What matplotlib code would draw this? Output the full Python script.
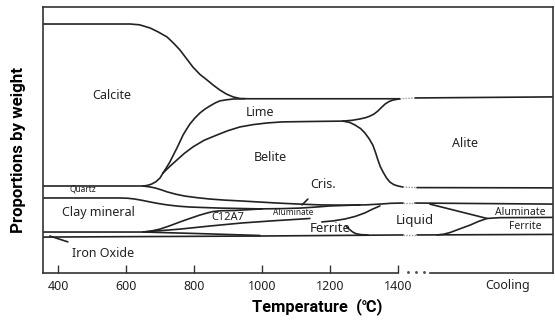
import matplotlib
matplotlib.use("Agg")
import matplotlib.pyplot as plt

plt.rcParams['font.family'] = ['Noto Sans', 'DejaVu Sans', 'Noto Sans CJK KR']

# ---- data: temperature (°C) and cumulative proportion (%) ----
calcite_T = [356, 612, 640, 671, 695, 721, 740, 759, 778, 797, 818, 838, 857, 876, 895, 915, 935, 960, 1406]
calcite_Y = [93.6, 93.6, 93.3, 92.1, 90.6, 88.7, 86.4, 83.8, 80.6, 77.4, 74.6, 72.6, 70.6, 68.8, 67.3, 66.2, 65.6, 65.5, 65.5]
calcite_cool_T = [1450, 1856]
calcite_cool_Y = [65.8, 66.2]

trunk_T = [650, 662, 675, 688, 700, 709]
trunk_Y = [32.7, 32.9, 33.4, 34.3, 35.7, 37.6]

lime_T = [709, 720, 729, 740, 750, 760, 768, 778, 788, 803, 818, 832, 847, 862, 876, 895, 915, 950]
lime_Y = [37.6, 39.8, 41.7, 44.5, 47.0, 49.7, 51.9, 54.0, 56.0, 58.3, 60.2, 61.6, 62.8, 63.9, 64.7, 65.1, 65.4, 65.5]

belite_top_T = [709, 730, 750, 772, 797, 830, 868, 900, 935, 975, 1015, 1060, 1112, 1170, 1238]
belite_top_Y = [37.6, 40.2, 42.5, 45.0, 47.4, 49.9, 51.9, 53.5, 54.9, 55.8, 56.4, 56.8, 56.9, 57.0, 57.1]

lime_bottom_T = [1238, 1265, 1288, 1305, 1318, 1330, 1341, 1352, 1362, 1373, 1385, 1406]
lime_bottom_Y = [57.1, 57.4, 57.9, 58.4, 59.0, 59.8, 60.9, 62.3, 63.5, 64.4, 65.0, 65.5]

belite_right_T = [1238, 1258, 1274, 1290, 1303, 1315, 1326, 1334, 1341, 1348, 1356, 1366, 1376, 1388, 1400, 1415]
belite_right_Y = [57.1, 56.6, 55.6, 54.3, 52.6, 50.5, 48.1, 45.3, 42.5, 40.0, 38.0, 35.8, 34.2, 33.2, 32.7, 32.3]
alite_bottom_T = [1456, 1856]
alite_bottom_Y = [32.1, 32.0]

quartz_top_T = [356, 650]
quartz_top_Y = [32.7, 32.7]

quartz_desc_T = [650, 668, 685, 703, 721, 747, 774, 810, 847, 890, 935, 990, 1044, 1110, 1171, 1240, 1303, 1347, 1380, 1415]
quartz_desc_Y = [32.7, 32.4, 32.0, 31.3, 30.5, 29.6, 28.9, 28.3, 27.8, 27.4, 27.1, 26.7, 26.3, 25.9, 25.6, 25.5, 25.6, 25.9, 26.2, 26.3]
liquid_top_cool_T = [1450, 1856]
liquid_top_cool_Y = [26.3, 25.9]

clay_top_T = [356, 582, 605, 626, 648, 671, 696, 721, 755, 788, 830, 876, 994, 1060, 1112, 1160, 1200, 1288]
clay_top_Y = [28.2, 28.2, 28.1, 27.8, 27.3, 26.7, 26.1, 25.6, 25.1, 24.8, 24.6, 24.4, 24.1, 24.2, 24.4, 24.8, 25.2, 25.6]

c12a7_T = [650, 675, 700, 730, 759, 790, 818, 840, 856, 880, 921, 1000]
c12a7_Y = [15.4, 15.8, 16.5, 17.8, 19.2, 20.6, 21.8, 22.6, 23.1, 23.4, 23.5, 24.1]

clay_bottom_T = [356, 650, 818, 994]
clay_bottom_Y = [15.4, 15.4, 14.8, 14.1]

bottom_T = [356, 994, 1415]
bottom_Y = [13.5, 13.9, 14.3]
bottom_cool_T = [1456, 1856]
bottom_cool_Y = [14.3, 14.5]

ferrite_top_T = [650, 700, 759, 850, 941, 1030, 1118, 1141]
ferrite_top_Y = [15.4, 15.9, 16.5, 17.7, 18.8, 19.6, 20.3, 20.5]

alum_rise_T = [1176, 1210, 1244, 1275, 1303, 1325, 1347]
alum_rise_Y = [19.2, 19.6, 20.3, 21.3, 22.6, 24.0, 25.2]

ferrite_bot_T = [1247, 1253, 1259, 1267, 1276, 1292, 1312]
ferrite_bot_Y = [17.7, 16.8, 16.2, 15.4, 14.8, 14.4, 14.3]

ferrite_cool_T = [1515, 1535, 1553, 1580, 1612, 1637, 1662, 1700, 1856]
ferrite_cool_Y = [14.3, 14.6, 15.2, 16.5, 18.0, 19.4, 20.5, 20.8, 20.9]

alum_cool_T = [1494, 1662]
alum_cool_Y = [25.9, 20.5]

cris_tick_T = [1118, 1135]
cris_tick_Y = [25.6, 27.8]

iron_leader_T = [376, 429]
iron_leader_Y = [13.9, 11.7]

# dotted breaks (heating -> cooling)
breaks = [([1406, 1450], [65.5, 65.8]),
          ([1415, 1456], [32.3, 32.1]),
          ([1415, 1450], [26.3, 26.3]),
          ([1415, 1456], [14.3, 14.3])]

tick_vals = [400, 600, 800, 1000, 1200, 1400]
tick_labels = ['400', '600', '800', '1000', '1200', '1400']

labels = [("Calcite", 559, 66.9, 9), ("Lime", 994, 60.2, 9), ("Belite", 1024, 43.6, 9),
          ("Alite", 1597, 48.5, 9), ("Cris.", 1179, 33.1, 9), ("Quartz", 474, 31.6, 6),
          ("Clay mineral", 518, 22.6, 9), ("C12A7", 900, 20.7, 8),
          ("Aluminate", 1091, 22.6, 6), ("Ferrite", 1200, 16.9, 9.5),
          ("Liquid", 1450, 19.9, 9.5), ("Aluminate", 1759, 22.9, 7.5),
          ("Ferrite", 1774, 17.3, 7.5), ("Iron Oxide", 532, 7.5, 9)]

# ---- figure ----
fig = plt.figure(figsize=(5.55, 3.22), dpi=100)
ax = fig.add_axes([0.0775, 0.1522, 0.9189, 0.8261])
ax.set_xlim(356, 1856)
ax.set_ylim(0, 100)

lc = '#222222'
lw = 1.2
curves = [(calcite_T, calcite_Y), (calcite_cool_T, calcite_cool_Y), (trunk_T, trunk_Y),
          (lime_T, lime_Y), (belite_top_T, belite_top_Y), (lime_bottom_T, lime_bottom_Y),
          (belite_right_T, belite_right_Y), (alite_bottom_T, alite_bottom_Y),
          (quartz_top_T, quartz_top_Y), (quartz_desc_T, quartz_desc_Y),
          (liquid_top_cool_T, liquid_top_cool_Y), (clay_top_T, clay_top_Y),
          (c12a7_T, c12a7_Y), (clay_bottom_T, clay_bottom_Y), (bottom_T, bottom_Y),
          (bottom_cool_T, bottom_cool_Y), (ferrite_top_T, ferrite_top_Y),
          (alum_rise_T, alum_rise_Y), (ferrite_bot_T, ferrite_bot_Y),
          (ferrite_cool_T, ferrite_cool_Y), (alum_cool_T, alum_cool_Y),
          (cris_tick_T, cris_tick_Y), (iron_leader_T, iron_leader_Y)]
for t, y in curves:
    ax.plot(t, y, color=lc, lw=lw, solid_capstyle='round', solid_joinstyle='round')
for t, y in breaks:
    ax.plot(t, y, color='#999999', lw=1.0, ls=(0, (1, 1)))

for txt, t, y, fs in labels:
    ax.text(t, y, txt, ha='center', va='center', fontsize=fs, color='#222222')

# spines
for s in ['left', 'top', 'right']:
    ax.spines[s].set_color('#333333')
    ax.spines[s].set_linewidth(1.2)
ax.spines['bottom'].set_visible(False)
ax.plot([356, 1400], [0, 0], color='#333333', lw=1.2, clip_on=False)
ax.plot([1494, 1856], [0, 0], color='#333333', lw=1.2, clip_on=False)
ax.plot([1429, 1453, 1476], [0.3, 0.3, 0.3], ls='none', marker='o', ms=1.1,
        color='#555555', clip_on=False)

ax.set_xticks(tick_vals)
ax.set_xticklabels(tick_labels)
ax.tick_params(axis='x', direction='in', length=6, width=1, color='#333333',
               labelsize=9, pad=5, labelcolor='#222222')
ax.set_yticks([])
ax.text(1724, -4.6, "Cooling", ha='center', va='center', fontsize=9, color='#222222')

bold_fam = ['Roboto', 'DejaVu Sans']
ax.set_xlabel("Temperature  (℃)", fontsize=11.8, fontweight='bold', family=bold_fam)
ax.set_ylabel("Proportions by weight", fontsize=12.2, fontweight='bold', family=bold_fam)
ax.xaxis.set_label_coords(0.537, -0.095)
ax.yaxis.set_label_coords(-0.033, 0.462)

fig.savefig("out.png", dpi=100)
